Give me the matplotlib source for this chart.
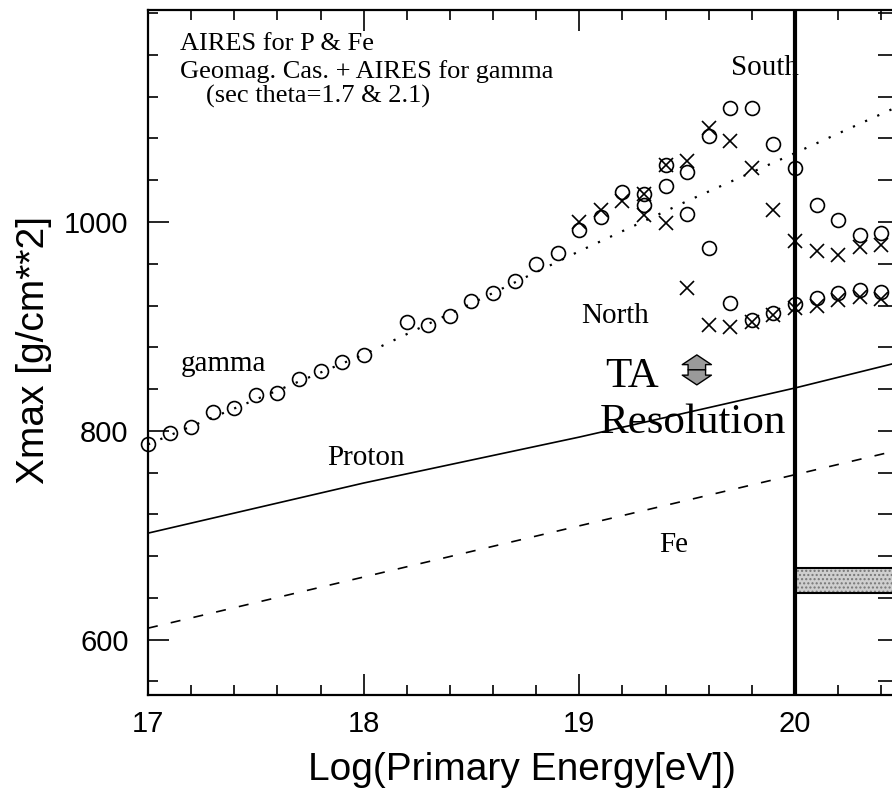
import matplotlib.pyplot as plt
import numpy as np
from matplotlib.ticker import MultipleLocator

plt.rcParams['font.family'] = ['Liberation Sans', 'DejaVu Sans']
SERIF = ['Liberation Serif', 'DejaVu Serif']

# common gamma points (both directions)
e_gamma = [17.0, 17.1, 17.2, 17.3, 17.4, 17.5, 17.6, 17.7, 17.8, 17.9, 18.0,
           18.2, 18.3, 18.4, 18.5, 18.6, 18.7, 18.8, 18.9]
xmax_gamma = [787, 798, 804, 818, 822, 834, 836, 850, 857, 866, 873,
              904, 901, 910, 924, 932, 943, 960, 970]

# South branch
e_south = [19.0, 19.1, 19.2, 19.3, 19.4, 19.5, 19.6, 19.7, 19.8, 19.9, 20.0,
           20.1, 20.2, 20.3, 20.4]
south_circ = [992, 1005, 1029, 1027, 1055, 1048, 1082, 1109, 1109, 1075, 1052,
              1016, 1002, 988, 989]
south_cross = [1000, 1011, 1020, 1027, 1055, 1058, 1090, 1078, 1052, 1011, 982,
               972, 968, 976, 978]

# North branch
e_north = [19.3, 19.4, 19.5, 19.6, 19.7, 19.8, 19.9, 20.0, 20.1, 20.2, 20.3, 20.4]
north_circ = [1016, 1034, 1008, 975, 922, 906, 913, 921, 927, 932, 935, 933]
north_cross = [1007, 999, 937, 901, 899, 904, 911, 918, 920, 925, 928, 926]

# gamma without preshower (dotted)
e_dot = [17.0, 18.0, 18.5, 19.0, 19.5, 20.0, 20.45]
xmax_dot = [787, 873, 922, 972, 1020, 1066, 1108]

# AIRES proton and iron
e_line = [17.0, 18.0, 19.0, 20.0, 20.45]
xmax_p = [702, 750, 794, 841, 864]
xmax_fe = [611, 660, 709, 758, 780]

# shaded band at right
band = [645, 669]

y_ticks = [600, 800, 1000]

fig = plt.figure(figsize=(8.92, 8), dpi=100)
ax = fig.add_axes([148 / 892, 105 / 800, 744 / 892, 685 / 800])
ax.set_xlim(17, 20.45)
ax.set_ylim(547, 1203)

ax.plot(e_dot, xmax_dot, color='black', lw=1.6, ls=(0, (1, 5)))
ax.plot(e_line, xmax_p, color='black', lw=1.2)
ax.plot(e_line, xmax_fe, color='black', lw=1.2, ls=(0, (6, 8)))

mk = dict(ls='none', ms=10, mew=1.2, color='black')
ax.plot(e_gamma, xmax_gamma, marker='o', mfc='none', clip_on=False, **mk)
ax.plot(e_south, south_circ, marker='o', mfc='none', **mk)
ax.plot(e_south, south_cross, marker='x', **mk)
ax.plot(e_north, north_circ, marker='o', mfc='none', **mk)
ax.plot(e_north, north_cross, marker='x', **mk)

ax.axvline(20, color='black', lw=3)
ax.fill_between([20, 20.45], band[0], band[1], facecolor='#cfcfcf',
                edgecolor='#777777', hatch='....', lw=0)
ax.hlines(band, 20, 20.45, color='black', lw=1.5)

# TA resolution arrow
for tip in (872.7, 844.0):
    ax.annotate('', xy=(19.545, tip), xytext=(19.545, 858.4),
                arrowprops=dict(arrowstyle='simple,head_length=0.5,head_width=1.5,tail_width=0.9',
                                fc='#9a9a9a', ec='black', lw=1, mutation_scale=14,
                                shrinkA=0, shrinkB=0))

txt = dict(family=SERIF, va='baseline', color='black')
ax.text(17.15, 1165, 'AIRES for P & Fe', size=19, **txt)
ax.text(17.15, 1138, 'Geomag. Cas. + AIRES for gamma', size=19, **txt)
ax.text(17.27, 1114, '(sec theta=1.7 & 2.1)', size=19, **txt)
ax.text(19.705, 1141, 'South', size=21, **txt)
ax.text(19.01, 903, 'North', size=21, **txt)
ax.text(17.15, 857, 'gamma', size=21, **txt)
ax.text(17.83, 767, 'Proton', size=21, **txt)
ax.text(19.37, 684, 'Fe', size=21, **txt)
ax.text(19.12, 842, 'TA', size=31, **txt)
ax.text(19.095, 798, 'Resolution', size=31, **txt)

for s in ('left', 'bottom', 'top'):
    ax.spines[s].set_linewidth(1.6)
ax.spines['right'].set_visible(False)

ax.xaxis.set_major_locator(MultipleLocator(1))
ax.xaxis.set_minor_locator(MultipleLocator(0.2))
ax.set_yticks(y_ticks)
ax.yaxis.set_minor_locator(MultipleLocator(40))
ax.tick_params(which='both', direction='in', top=True, right=False, width=1.2)
ax.tick_params(which='major', length=15, labelsize=21)
ax.tick_params(which='minor', length=7)
ax.tick_params(axis='x', pad=11)
ax.tick_params(axis='y', pad=14)

ax2 = ax.twinx()
ax2.set_ylim(ax.get_ylim())
ax2.yaxis.set_major_locator(MultipleLocator(40))
ax2.tick_params(direction='in', length=10, width=1.2, labelright=False)
for s in ax2.spines.values():
    s.set_visible(False)

fig.text(522 / 892, 1 - 770 / 800, 'Log(Primary Energy[eV])', size=28,
         ha='center', va='center')
fig.text(34 / 892, 1 - 350 / 800, 'Xmax [g/cm**2]', size=28, rotation=90,
         ha='center', va='center')

plt.savefig('out.png', dpi=100)
